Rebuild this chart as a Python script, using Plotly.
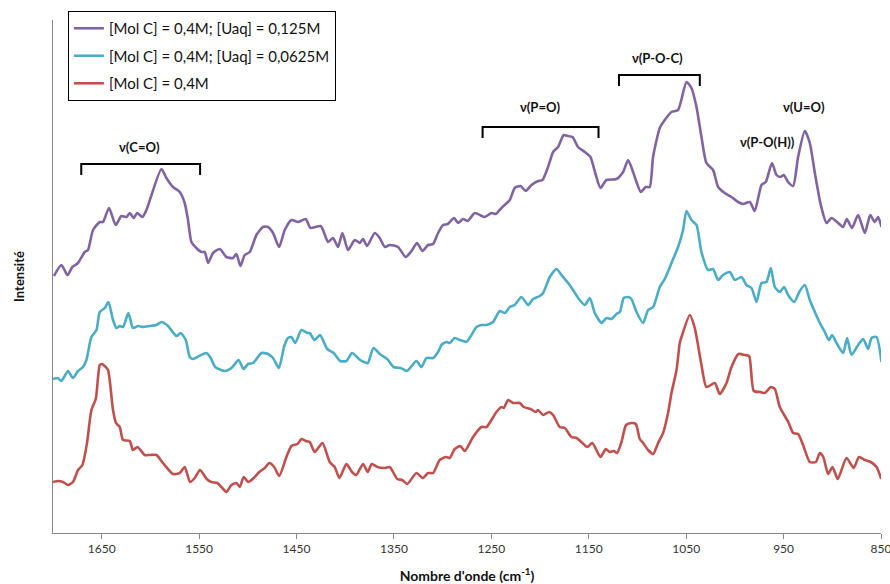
import plotly.graph_objects as go

# ---- data (wavenumber in cm-1, intensity in arbitrary units) ----
wn_purple = [1699.0,1691.4,1685.2,1680.1,1674.3,1667.4,1664.1,1658.9,1652.0,1648.7,1642.5,1635.6,1629.8,1624.6,1621.2,1617.1,1613.7,1608.2,1604.1,1588.7,1583.6,1576.8,1569.9,1564.8,1561.4,1557.9,1552.8,1547.6,1544.2,1540.8,1535.7,1528.8,1522.0,1515.2,1511.7,1507.6,1503.2,1498.0,1491.2,1484.4,1479.3,1474.1,1467.9,1462.1,1455.2,1448.5,1440.6,1435.7,1425.1,1417.6,1412.5,1407.4,1402.9,1397.1,1390.2,1385.1,1381.7,1377.6,1369.7,1364.6,1359.4,1354.3,1345.8,1337.9,1332.0,1326.3,1320.7,1315.0,1309.8,1304.7,1299.6,1294.8,1288.3,1284.2,1279.1,1274.2,1267.0,1256.8,1249.9,1245.5,1239.6,1231.1,1226.0,1220.1,1214.7,1208.8,1202.1,1197.5,1191.8,1186.6,1181.5,1175.7,1171.2,1166.7,1161.0,1154.1,1148.3,1142.8,1138.0,1131.8,1121.6,1114.8,1109.6,1104.5,1101.0,1096.6,1091.5,1087.4,1084.0,1077.1,1072.0,1065.1,1058.3,1049.7,1044.6,1039.4,1034.3,1029.2,1022.4,1017.2,1010.4,1003.5,996.7,991.6,984.7,979.6,972.7,968.3,961.9,957.3,953.2,949.8,945.4,940.2,935.1,928.2,923.1,917.9,911.8,905.9,900.8,894.0,888.9,885.1,879.8,873.5,866.6,861.0,856.4,853.0,849.5]
int_purple = [257,268,258,266,270,281,283,303,311,311,325,308,317,316,320,315,320,316,323,364,355,346,341,330,313,291,285,281,281,270,280,284,276,275,279,267,278,281,298,306,306,300,286,303,313,311,314,305,307,291,295,286,300,283,293,290,294,287,300,295,286,288,286,276,282,290,282,288,289,300,308,309,315,310,314,312,320,316,320,319,325,333,345,347,342,348,352,353,366,381,386,398,397,396,386,381,376,358,345,353,354,361,373,361,351,341,346,346,376,405,413,421,423,451,445,426,396,370,363,346,340,336,331,329,331,322,348,351,370,358,356,358,351,347,376,402,390,360,328,310,315,310,306,314,305,318,300,318,311,316,306]

wn_cyan = [1700.0,1695.2,1691.4,1684.6,1679.5,1674.3,1669.2,1665.7,1660.6,1655.4,1652.0,1646.9,1643.1,1638.4,1634.9,1631.5,1628.1,1622.6,1617.9,1612.7,1607.6,1600.7,1593.8,1588.4,1581.9,1573.3,1568.9,1563.7,1559.6,1556.3,1550.1,1542.5,1538.1,1533.5,1523.7,1516.8,1509.5,1504.4,1499.8,1494.6,1486.0,1479.2,1474.1,1468.1,1462.6,1458.7,1455.2,1451.3,1445.0,1438.8,1436.4,1431.6,1425.9,1418.5,1411.8,1405.1,1398.8,1393.0,1384.6,1378.2,1376.6,1371.0,1364.6,1356.9,1350.4,1343.2,1336.6,1326.9,1321.8,1316.6,1309.8,1304.7,1301.2,1296.1,1292.7,1287.6,1282.4,1279.1,1275.6,1270.4,1265.3,1260.2,1255.0,1248.3,1244.1,1241.4,1236.2,1231.1,1226.0,1219.1,1212.3,1207.2,1200.3,1196.9,1190.0,1183.1,1178.0,1171.2,1166.1,1160.9,1154.1,1148.9,1143.8,1136.9,1131.8,1126.7,1121.6,1118.1,1114.1,1109.6,1106.2,1101.0,1094.2,1089.1,1083.9,1077.1,1072.0,1065.1,1058.3,1053.2,1049.7,1044.6,1039.4,1034.3,1027.5,1022.4,1017.2,1012.1,1005.2,1000.1,993.2,988.1,982.9,977.8,972.7,967.6,963.1,959.0,953.9,949.5,945.4,939.2,933.4,928.2,923.1,917.9,912.8,907.7,903.6,900.2,895.7,888.9,884.8,880.3,873.5,868.3,863.2,859.7,854.6,849.5]
int_cyan = [154,155,152,162,155,162,166,173,196,203,221,225,231,213,205,207,206,220,205,207,206,207,208,211,207,197,200,193,176,174,177,180,175,166,162,165,173,164,169,170,180,179,175,165,187,195,196,190,203,200,200,193,198,184,180,172,172,180,173,170,170,185,179,174,166,165,162,172,166,175,175,181,188,191,190,195,193,192,191,198,206,208,208,211,218,222,220,226,228,236,228,234,237,240,256,264,258,250,243,235,228,235,220,210,215,214,219,221,235,236,234,221,210,223,226,246,254,270,286,303,322,313,308,281,263,264,253,258,261,253,256,248,245,231,250,251,265,246,241,246,238,231,242,248,233,221,210,201,193,198,190,180,195,178,188,194,184,195,196,171]

wn_red = [1700.0,1694.9,1689.7,1684.6,1679.5,1674.3,1669.8,1665.1,1660.6,1656.1,1652.0,1650.0,1646.9,1643.5,1638.4,1635.3,1631.5,1628.1,1621.2,1617.9,1613.3,1605.8,1600.7,1593.8,1587.1,1576.8,1569.9,1564.8,1559.3,1554.5,1549.1,1542.2,1537.4,1531.4,1527.1,1522.0,1516.8,1511.7,1508.3,1504.2,1499.8,1493.9,1488.3,1482.6,1478.0,1472.9,1467.8,1460.4,1455.2,1449.0,1445.0,1440.6,1436.4,1431.3,1423.4,1415.9,1410.8,1406.0,1398.8,1393.0,1388.7,1381.7,1376.9,1372.8,1367.1,1359.4,1354.3,1346.6,1341.5,1336.3,1326.9,1320.4,1315.0,1309.8,1303.0,1296.5,1292.7,1287.6,1281.9,1277.3,1268.8,1260.2,1255.0,1244.8,1239.6,1237.2,1232.8,1227.7,1220.8,1216.7,1209.8,1204.4,1202.1,1196.9,1190.5,1186.6,1179.8,1174.6,1167.8,1162.6,1156.5,1151.5,1146.4,1138.0,1132.5,1128.5,1124.3,1120.9,1116.4,1111.7,1106.2,1101.7,1097.6,1094.2,1089.1,1083.9,1078.8,1073.7,1068.6,1065.1,1059.9,1056.6,1054.8,1046.3,1041.2,1034.3,1029.2,1020.6,1015.5,1008.6,1003.5,996.3,989.8,985.4,980.6,973.7,969.3,963.1,959.0,953.9,945.2,940.2,935.1,930.0,923.1,916.9,912.8,909.2,904.3,899.8,894.4,885.4,878.1,872.6,866.6,860.5,854.6,849.7]
int_red = [51,52,51,48,51,63,68,90,123,134,168,169,167,163,123,110,106,93,92,83,86,78,78,78,70,59,60,66,51,55,63,54,51,50,46,41,48,50,46,56,51,55,61,65,70,66,57,76,87,89,94,92,91,81,90,71,66,55,69,61,58,69,61,69,66,65,66,54,53,49,60,55,60,60,73,76,75,84,87,82,96,106,106,121,126,125,133,130,130,126,124,121,123,118,121,118,106,105,96,95,90,86,90,76,84,81,82,80,91,108,110,109,94,90,83,79,90,100,120,140,163,190,196,218,205,168,146,150,139,150,166,179,178,177,142,141,140,146,144,126,111,100,99,88,71,71,80,76,59,66,54,75,65,76,73,71,66,54]

series_names = ["[Mol C] = 0,4M; [Uaq] = 0,125M",
                "[Mol C] = 0,4M; [Uaq] = 0,0625M",
                "[Mol C] = 0,4M"]
series_colors = ["#8064A2", "#4BACC6", "#C0504D"]

tick_vals = [1650, 1550, 1450, 1350, 1250, 1150, 1050, 950, 850]

# band annotations: label, x-start, x-end (None = no bracket), bracket top, label position
band_labels = ["ν(C=O)", "ν(P=O)", "ν(P-O-C)", "ν(P-O(H))", "ν(U=O)"]
band_x0 = [1671, 1259, 1119, None, None]
band_x1 = [1549, 1140, 1036, None, None]
band_top = [369, 406, 458, None, None]
label_x = [1611, 1200, 1079, 967, 929]
label_y = [386, 426, 475, 391, 426]

fig = go.Figure()
for i, (xs, ys) in enumerate([(wn_purple, int_purple), (wn_cyan, int_cyan), (wn_red, int_red)]):
    fig.add_trace(go.Scatter(x=xs, y=ys, mode="lines", name=series_names[i],
                             legendgroup=f"g{i}",
                             line=dict(color=series_colors[i], width=2.6, shape="spline", smoothing=0.6)))

for lab, x0, x1, top, lx, ly in zip(band_labels, band_x0, band_x1, band_top, label_x, label_y):
    if x0 is not None:
        leg = 11
        fig.add_shape(type="path", xref="x", yref="y",
                      path=f"M {x0},{top-leg} L {x0},{top} L {x1},{top} L {x1},{top-leg}",
                      line=dict(color="black", width=2))
    fig.add_annotation(x=lx, y=ly, xref="x", yref="y", text=f"<b>{lab}</b>",
                       showarrow=False, font=dict(family="Lato, Open Sans, sans-serif", size=13, color="#111"))

fig.update_layout(
    width=890, height=584,
    margin=dict(l=53, r=9, t=20, b=51, autoexpand=False),
    paper_bgcolor="white", plot_bgcolor="white",
    font=dict(family="Lato, Open Sans, sans-serif", color="#222"),
    showlegend=True,
    legend=dict(x=0.018, y=1.0175, xanchor="left", yanchor="top",
                bordercolor="black", borderwidth=1, bgcolor="white",
                font=dict(size=15, color="#111"), tracegroupgap=5,
                itemwidth=30),
    xaxis=dict(range=[1700, 850], tickvals=tick_vals, ticks="outside", ticklen=5,
               tickcolor="#888", showline=True, linecolor="#888", linewidth=1,
               showgrid=False, zeroline=False, tickfont=dict(size=12, color="#333"),
               automargin=False, ticklabeloverflow="allow",
               title=dict(text="<b>Nombre d'onde (cm<sup>-1</sup>)</b>", font=dict(size=14, color="#111"), standoff=16)),
    yaxis=dict(range=[0, 513], showticklabels=False, ticks="", showline=True,
               linecolor="#888", linewidth=1, showgrid=False, zeroline=False,
               automargin=False,
               title=dict(text="<b>Intensité</b>", font=dict(size=13, color="#111"), standoff=24)),
)

fig.write_html("out.html", config={"displayModeBar": False},
               post_script="document.body.style.margin='0';")
